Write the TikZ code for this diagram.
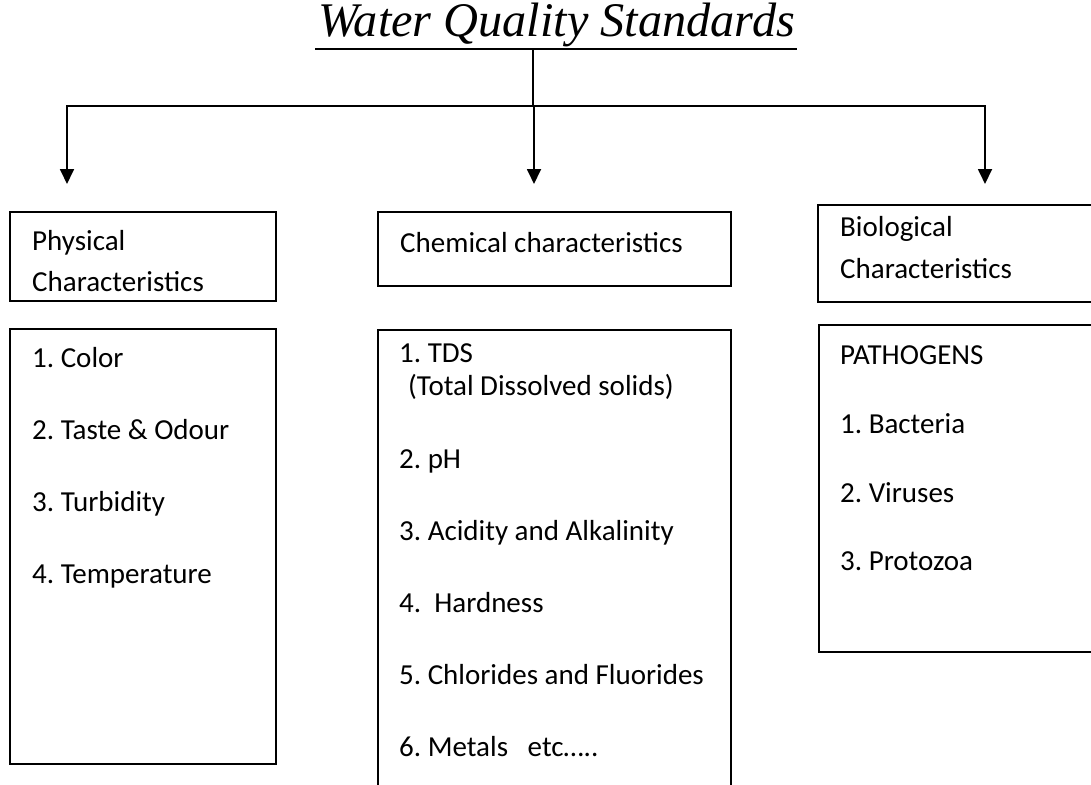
\documentclass[tikz,border=0pt]{standalone}
\usepackage{fontspec}
\setmainfont{Carlito}
\newfontfamily\titlefont{Liberation Serif}
\usetikzlibrary{arrows.meta}
\frenchspacing
\begin{document}
\begin{tikzpicture}[x=1pt,y=-1pt,
  box/.style={draw,line width=1.8pt,inner sep=0pt,minimum width=#1},
  lbl/.style={anchor=base west,inner sep=0pt,font=\fontsize{29}{35}\selectfont},
  conn/.style={line width=1.8pt},
  arr/.style={line width=1.8pt,-{Triangle[width=14pt,length=15pt]}}]
\useasboundingbox (0,0) rectangle (1091,784);
\clip (0,0) rectangle (1091,784);
% title
\node[anchor=base,inner sep=0pt,font=\titlefont\itshape\fontsize{48.3}{58}\selectfont] (title) at (556.5,37) {Water Quality Standards};
\coordinate (ulL) at (315,49);
\coordinate (ulR) at (797,49);
\draw[conn] (ulL) -- (ulR);
\coordinate (stem) at (533,50);
\coordinate (hub) at (533,106);
\coordinate (a1) at (67,184);
\coordinate (a2) at (534,184);
\coordinate (a3) at (985,184);
\draw[conn] (stem) -- (hub);
\draw[arr] (hub) -| (a1);
\draw[arr] (hub) -| (a3);
\draw[arr] (a2 |- hub) -- (a2);
% header boxes
\node[box=266pt,minimum height=89pt] (phh) at (143,256.5) {};
\node[box=353pt,minimum height=74pt] (chh) at (554.5,249) {};
\node[box=275pt,minimum height=97pt] (bih) at (955.5,253.5) {};
% list boxes
\node[box=266pt,minimum height=435pt] (phl) at (143,546.5) {};
\node[box=353pt,minimum height=465pt] (chl) at (554.5,562.5) {};
\node[box=274pt,minimum height=327pt] (bil) at (956,488.5) {};
% header texts
\node[lbl] (t1) at (32,250) {Physical};
\node[lbl] (t2) at (32,291) {Characteristics};
\node[lbl] (t3) at (400,252) {Chemical characteristics};
\node[lbl] (t4) at (840,236) {Biological};
\node[lbl] (t5) at (840,278) {Characteristics};
% physical list
\node[lbl] (p1) at (32,367) {1. Color};
\node[lbl] (p2) at (32,439) {2. Taste \& Odour};
\node[lbl] (p3) at (32,511) {3. Turbidity};
\node[lbl] (p4) at (32,583) {4. Temperature};
% chemical list
\node[lbl] (c1) at (399,362) {1. TDS};
\node[lbl] (c1b) at (408,395) {(Total Dissolved solids)};
\node[lbl] (c2) at (399,468) {2. pH};
\node[lbl] (c3) at (399,540) {3. Acidity and Alkalinity};
\node[lbl] (c4) at (399,612) {4.\ \ Hardness};
\node[lbl] (c5) at (399,684) {5. Chlorides and Fluorides};
\node[lbl] (c6) at (399,756) {6. Metals\ \ \ etc…..};
% biological list
\node[lbl] (b0) at (840,364) {PATHOGENS};
\node[lbl] (b1) at (840,433) {1. Bacteria};
\node[lbl] (b2) at (840,502) {2. Viruses};
\node[lbl] (b3) at (840,570) {3. Protozoa};
\end{tikzpicture}
\end{document}
